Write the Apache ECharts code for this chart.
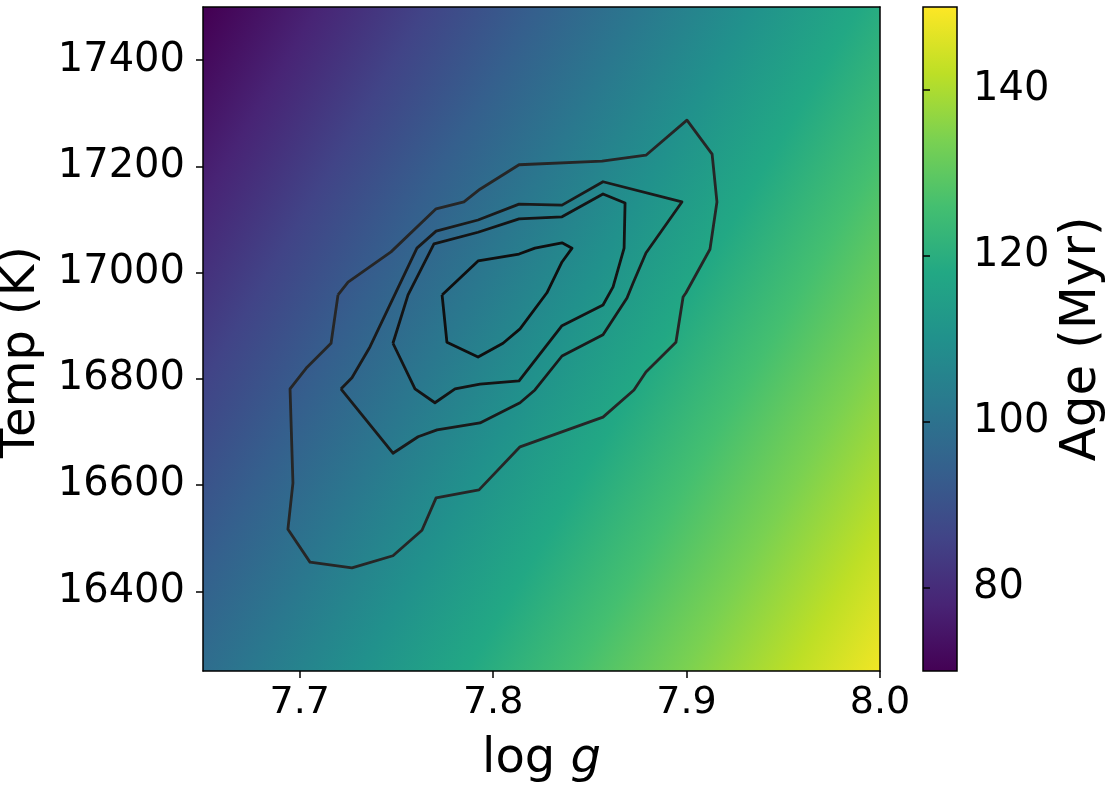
<!DOCTYPE html>
<html>
<head>
<meta charset="utf-8">
<script src="https://cdn.jsdelivr.net/npm/echarts@6/dist/echarts.min.js"></script>
<style>
html,body{margin:0;padding:0;background:#fff;}
#chart{width:1108px;height:786px;}
</style>
</head>
<body>
<div id="chart"></div>
<script>
// ---- axis limits and ticks ----
const loggRange = [7.65, 8.0];
const tempRange = [16250, 17500];
const ageRange = [70, 150];
const loggTicks = [7.7, 7.8, 7.9, 8.0];
const tempTicks = [16400, 16600, 16800, 17000, 17200, 17400];
const ageTicks = [80, 100, 120, 140];

// ---- age field read at the plot corners (Myr): [left, right] ----
const ageTopEdge = [71, 118];
const ageBottomEdge = [97, 150];

// ---- contour levels (log g, Temp) ----
const contour1 = [
  [7.7198,16958],[7.7250,16982],[7.7472,17039],[7.7705,17120],[7.7849,17133],[7.7932,17157],
  [7.8134,17203],[7.8563,17210],[7.8790,17221],[7.9002,17287],[7.9132,17223],[7.9157,17133],
  [7.9121,17044],[7.8997,16962],[7.8982,16954],[7.8945,16869],[7.8790,16813],[7.8728,16779],
  [7.8568,16728],[7.8139,16672],[7.7927,16591],[7.7705,16576],[7.7632,16515],[7.7482,16467],
  [7.7270,16444],[7.7053,16455],[7.6939,16517],[7.6965,16604],[7.6950,16781],[7.7038,16822],
  [7.7162,16867],[7.7198,16958]
];
const contour2 = [
  [7.7213,16781],[7.7270,16802],[7.7363,16860],[7.7606,17046],[7.7705,17078],[7.7922,17099],
  [7.8134,17129],[7.8356,17127],[7.8568,17171],[7.8976,17133],[7.8790,17037],[7.8723,16980],
  [7.8692,16952],[7.8568,16883],[7.8356,16843],[7.8216,16779],[7.8139,16755],[7.7932,16717],
  [7.7710,16704],[7.7612,16691],[7.7482,16660],[7.7213,16781]
];
const contour3 = [
  [7.7482,16867],[7.7560,16958],[7.7694,17054],[7.7922,17076],[7.8134,17101],[7.8356,17105],
  [7.8568,17148],[7.8682,17131],[7.8677,17046],[7.8620,16973],[7.8568,16939],[7.8356,16900],
  [7.8134,16796],[7.7932,16790],[7.7803,16781],[7.7699,16755],[7.7596,16781],[7.7482,16867]
];
const contour4 = [
  [7.7736,16958],[7.7922,17022],[7.8134,17035],[7.8216,17046],[7.8356,17056],[7.8408,17046],
  [7.8356,17020],[7.8278,16962],[7.8139,16894],[7.8051,16867],[7.7922,16841],[7.7761,16869],
  [7.7736,16958]
];

const viridis = ['#440154','#482475','#414487','#355f8d','#2a788e','#21918c',
                 '#22a884','#44bf70','#7ad151','#bddf26','#fde725'];
const stops = viridis.map((c, i) => ({offset: i / (viridis.length - 1), color: c}));

const FONT = 'DejaVu Sans';
const chart = echarts.init(document.getElementById('chart'), null, {renderer: 'canvas'});

function bgItem(params, api) {
  const p0 = api.coord([loggRange[0], tempRange[1]]);
  const p1 = api.coord([loggRange[1], tempRange[0]]);
  const W = p1[0] - p0[0], H = p1[1] - p0[1];
  const tl = ageTopEdge[0], tr = ageTopEdge[1], bl = ageBottomEdge[0], br = ageBottomEdge[1];
  const gx = (((tr - tl) + (br - bl)) / 2) / W;
  const gy = (((bl - tl) + (br - tr)) / 2) / H;
  const c0 = (tl + tr + bl + br) / 4;
  const cx = p0[0] + W / 2, cy = p0[1] + H / 2;
  const n2 = gx * gx + gy * gy;
  const s0 = (ageRange[0] - c0) / n2, s1 = (ageRange[1] - c0) / n2;
  return {
    type: 'rect',
    shape: {x: p0[0], y: p0[1], width: W, height: H},
    style: {fill: new echarts.graphic.LinearGradient(cx + gx * s0, cy + gy * s0, cx + gx * s1, cy + gy * s1, stops, true)}
  };
}

function cbItem(params, api) {
  const p0 = api.coord([0, ageRange[1]]);
  const p1 = api.coord([1, ageRange[0]]);
  const W = p1[0] - p0[0], H = p1[1] - p0[1];
  return {
    type: 'group',
    children: [
      {type: 'rect', shape: {x: p0[0], y: p0[1], width: W, height: H},
       style: {fill: new echarts.graphic.LinearGradient(0, 1, 0, 0, stops)}},
      {type: 'rect', shape: {x: p0[0], y: p0[1], width: W, height: H},
       style: {fill: null, stroke: '#000', lineWidth: 1.5}}
    ]
  };
}

const xTickLabel = {fontFamily: FONT, fontSize: 38, color: '#000'};
const yTickLabel = {fontFamily: FONT, fontSize: 40, color: '#000'};
const lineOnly = {
  show: true,
  axisLine: {show: true, lineStyle: {color: '#000', width: 1.5}},
  axisTick: {show: false}, axisLabel: {show: false}, splitLine: {show: false}
};

function contourSeries(data, color) {
  return {
    type: 'line', xAxisIndex: 0, yAxisIndex: 0, data: data,
    showSymbol: false, symbol: 'none', silent: true, z: 5,
    lineStyle: {color: color, width: 2.8, join: 'round'},
    animation: false
  };
}

chart.setOption({
  animation: false,
  grid: [
    {left: 203, top: 7, width: 677, height: 664, containLabel: false, outerBoundsMode: 'none'},
    {left: 923, top: 7, width: 34, height: 664, containLabel: false, outerBoundsMode: 'none'}
  ],
  xAxis: [
    {
      type: 'value', gridIndex: 0, min: loggRange[0], max: loggRange[1], position: 'bottom', z: 10,
      axisLine: {show: true, onZero: false, lineStyle: {color: '#000', width: 1.5}},
      axisTick: {show: true, inside: false, length: 7, lineStyle: {color: '#000', width: 1.5}, customValues: loggTicks},
      axisLabel: Object.assign({margin: 13, customValues: loggTicks, formatter: v => v.toFixed(1)}, xTickLabel),
      splitLine: {show: false},
      name: '{n|log }{i|g}', nameLocation: 'middle', nameGap: 65,
      nameTextStyle: {fontFamily: FONT, fontSize: 48, color: '#000',
        rich: {n: {fontFamily: FONT, fontSize: 48, color: '#000'},
               i: {fontFamily: FONT, fontSize: 48, color: '#000', fontStyle: 'italic'}}}
    },
    Object.assign({type: 'value', gridIndex: 0, min: loggRange[0], max: loggRange[1], position: 'top', z: 10}, lineOnly,
      {axisLine: {show: true, onZero: false, lineStyle: {color: '#000', width: 1.5}}}),
    {type: 'value', gridIndex: 1, min: 0, max: 1, show: false}
  ],
  yAxis: [
    {
      type: 'value', gridIndex: 0, min: tempRange[0], max: tempRange[1], position: 'left', z: 10,
      axisLine: {show: true, onZero: false, lineStyle: {color: '#000', width: 1.5}},
      axisTick: {show: true, inside: false, length: 7, lineStyle: {color: '#000', width: 1.5}, customValues: tempTicks},
      axisLabel: Object.assign({margin: 18, customValues: tempTicks, formatter: v => String(v)}, yTickLabel),
      splitLine: {show: false},
      name: 'Temp (K)', nameLocation: 'middle', nameGap: 157, nameRotate: 90,
      nameTextStyle: {fontFamily: FONT, fontSize: 48, color: '#000', padding: [0, 26, 0, 0]}
    },
    Object.assign({type: 'value', gridIndex: 0, min: tempRange[0], max: tempRange[1], position: 'right', z: 10}, lineOnly,
      {axisLine: {show: true, onZero: false, lineStyle: {color: '#000', width: 1.5}}}),
    {
      type: 'value', gridIndex: 1, min: ageRange[0], max: ageRange[1], position: 'right', z: 10,
      axisLine: {show: false},
      axisTick: {show: true, inside: false, length: 7, lineStyle: {color: '#000', width: 1.5}, customValues: ageTicks},
      axisLabel: Object.assign({margin: 16, customValues: ageTicks, formatter: v => String(v)}, yTickLabel),
      splitLine: {show: false},
      name: 'Age (Myr)', nameLocation: 'middle', nameGap: 100, nameRotate: 90,
      nameTextStyle: {fontFamily: FONT, fontSize: 50, color: '#000'}
    }
  ],
  series: [
    {type: 'custom', xAxisIndex: 0, yAxisIndex: 0, renderItem: bgItem, data: [[loggRange[0], tempRange[0]]], z: 1, silent: true, clip: false},
    contourSeries(contour1, '#262626'),
    contourSeries(contour2, '#1a1a1a'),
    contourSeries(contour3, '#141414'),
    contourSeries(contour4, '#0f0f0f'),
    {type: 'custom', xAxisIndex: 2, yAxisIndex: 2, renderItem: cbItem, data: [[0, ageRange[0]]], z: 1, silent: true, clip: false}
  ]
});
</script>
</body>
</html>
